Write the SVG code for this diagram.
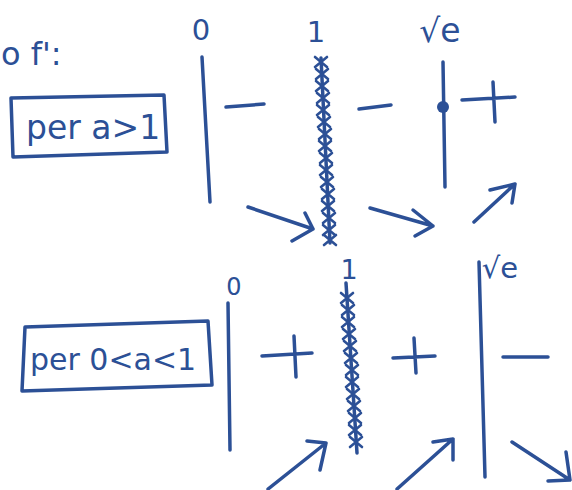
<svg xmlns="http://www.w3.org/2000/svg" width="572" height="490" viewBox="0 0 572 490">
<style>
.ink{fill:none;stroke:#2c5096;stroke-width:3.5;stroke-linecap:round;stroke-linejoin:round}
.thin{fill:none;stroke:#2c5096;stroke-width:2.6;stroke-linecap:round}
.t{fill:#2c5096;font-family:"DejaVu Sans",sans-serif}
</style>
<defs>
<path id="x" class="thin" d="M-6,-5 L6,5 M6,-5 L-6,5"/>
</defs>
<rect width="572" height="490" fill="#fff"/>
<g id="title"><text class="t" x="1" y="65" font-size="32">o f':</text></g>
<g id="box-top">
<path class="ink" d="M11,98 L164,95 L167,152 L13,157 Z"/>
<text class="t" x="26" y="139" font-size="33">per a&gt;1</text>
</g>
<g id="box-bottom">
<path class="ink" d="M25,327 L208,321 L212,385 L22,391 Z"/>
<text class="t" x="30" y="370" font-size="30">per 0&lt;a&lt;1</text>
</g>
<g id="top-chart">
<text class="t" x="201" y="40" font-size="29" text-anchor="middle">0</text>
<text class="t" x="316" y="42" font-size="29" text-anchor="middle">1</text>
<text class="t" x="440" y="42" font-size="33" text-anchor="middle">√e</text>
<path class="ink" d="M202,57 L210,202"/>
<path class="ink" d="M321,58 L330,243"/>
<g>
<use href="#x" x="321" y="62"/><use href="#x" x="322" y="74"/><use href="#x" x="322" y="86"/><use href="#x" x="323" y="98"/>
<use href="#x" x="323" y="110"/><use href="#x" x="324" y="122"/><use href="#x" x="325" y="134"/><use href="#x" x="325" y="146"/>
<use href="#x" x="326" y="158"/><use href="#x" x="326" y="170"/><use href="#x" x="327" y="182"/><use href="#x" x="328" y="194"/>
<use href="#x" x="328" y="206"/><use href="#x" x="329" y="218"/><use href="#x" x="329" y="230"/><use href="#x" x="330" y="240"/>
</g>
<path class="ink" d="M443,62 L445,187"/>
<circle cx="443" cy="107" r="6" fill="#2c5096"/>
<path class="ink" d="M226,107 L264,104"/>
<path class="ink" d="M359,109 L391,105"/>
<path class="ink" d="M462,100 L515,97 M493,82 L495,122"/>
</g>
<g id="bottom-chart">
<text class="t" x="234" y="295" font-size="24" text-anchor="middle">0</text>
<text class="t" x="349" y="279" font-size="27" text-anchor="middle">1</text>
<text class="t" x="500" y="278" font-size="29" text-anchor="middle">√e</text>
<path class="ink" d="M228,303 L230,450"/>
<path class="ink" d="M346,283 L357,453"/>
<g>
<use href="#x" x="347" y="298"/><use href="#x" x="348" y="310"/><use href="#x" x="348" y="322"/><use href="#x" x="349" y="334"/>
<use href="#x" x="350" y="346"/><use href="#x" x="351" y="358"/><use href="#x" x="352" y="370"/><use href="#x" x="352" y="382"/>
<use href="#x" x="353" y="394"/><use href="#x" x="354" y="406"/><use href="#x" x="355" y="418"/><use href="#x" x="355" y="430"/>
<use href="#x" x="356" y="442"/>
</g>
<path class="ink" d="M479,262 L485,477"/>
<path class="ink" d="M262,356 L312,353 M294,336 L296,377"/>
<path class="ink" d="M393,358 L435,356 M414,338 L416,373"/>
<path class="ink" d="M503,357 L548,357"/>
</g>
<g id="connectors">
<path class="ink" d="M248,207 L313,229 M292,241 L313,229 L305,213"/>
<path class="ink" d="M370,208 L433,226 M413,210 L433,226 L415,236"/>
<path class="ink" d="M474,222 L515,184 M490,190 L515,184 L512,203"/>
<path class="ink" d="M268,489 L326,443 M307,441 L326,443 L320,470"/>
<path class="ink" d="M397,489 L453,439 M433,442 L453,439 L453,460"/>
<path class="ink" d="M512,442 L570,480 M548,481 L570,480 L566,452"/>
</g>
</svg>
